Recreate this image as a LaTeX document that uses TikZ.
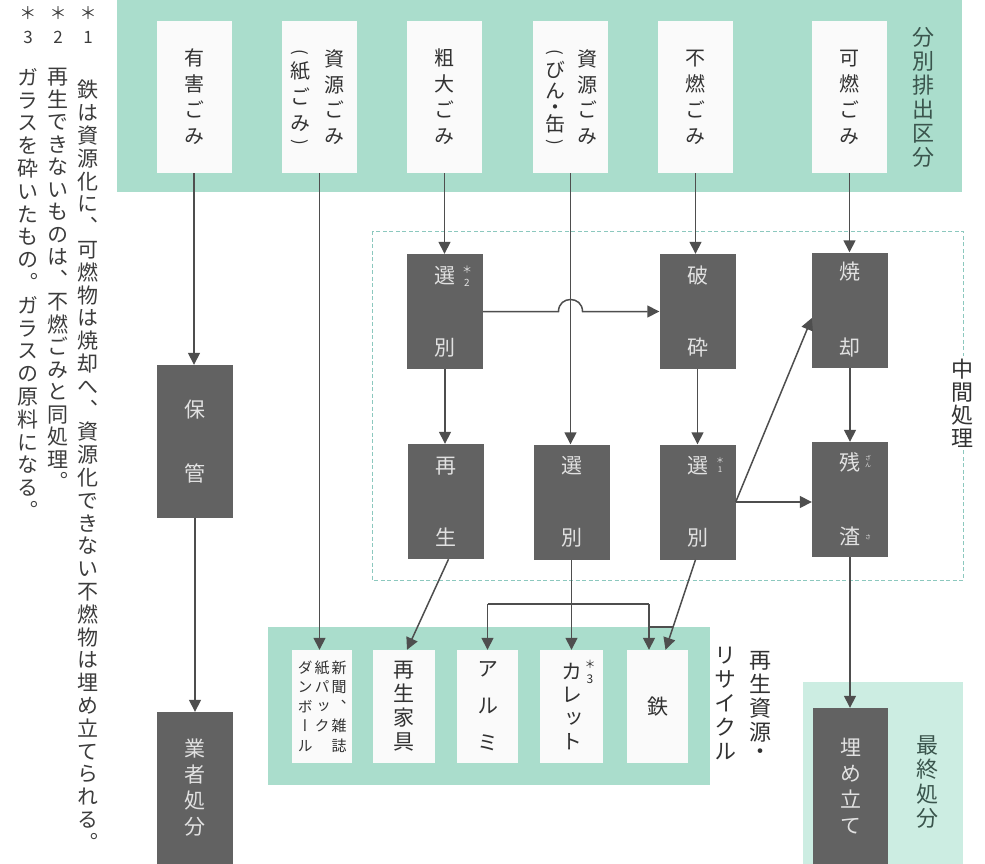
\documentclass[tikz,border=0pt]{standalone}
\usepackage{fontspec}
\setmainfont{Noto Sans CJK JP}[RawFeature=+vert]
\newfontfamily\hj{Noto Sans CJK JP}
\usetikzlibrary{arrows.meta,calc}
\definecolor{bandgreen}{RGB}{170,221,204}
\definecolor{lightgreen}{RGB}{204,237,226}
\definecolor{darkbox}{RGB}{98,98,98}
\definecolor{boxtext}{RGB}{225,225,225}
\definecolor{linegray}{RGB}{78,78,78}
\definecolor{wboxc}{RGB}{250,250,250}
\definecolor{dashc}{RGB}{140,200,190}
\definecolor{labelgreen}{RGB}{58,84,76}
\definecolor{txt}{RGB}{50,50,50}
\definecolor{fntxt}{RGB}{60,60,60}
\makeatletter
\def\vt@end{\vt@end@}
\newdimen\vt@half
\def\vt@loop#1{\ifx#1\vt@end\else
  \ifx#1・\vskip-0.5\vt@half\fi
  \hbox to 1em{\hss#1\hss}%
  \ifx#1・\vskip-0.5\vt@half\fi
  \expandafter\vt@loop\fi}
\newcommand\vtext[2][1.2em]{\vtop{\baselineskip=#1\relax\lineskiplimit=-100pt\relax\lineskip=0pt\relax\vt@half=0.45\baselineskip\vt@loop#2\vt@end}}
\makeatother
\begin{document}
\begin{tikzpicture}[x=1pt,y=-1pt,
 wb/.style={fill=wboxc, inner sep=0pt, minimum width=75pt, minimum height=152pt, text=txt, font=\fontsize{20}{20}\selectfont},
 wt/.style={inner sep=0pt, text=txt, font=\fontsize{20}{20}\selectfont},
 paren/.style={inner sep=0pt, text=txt, rotate=-90, font=\hj\fontsize{17}{17}\selectfont},
 db/.style={fill=darkbox, inner sep=0pt, minimum width=76pt, minimum height=115pt, text=boxtext, font=\fontsize{21}{21}\selectfont},
 rb/.style={fill=wboxc, inner sep=0pt, minimum height=113pt, text=txt, font=\fontsize{21}{21}\selectfont},
 lbl/.style={inner sep=0pt, font=\fontsize{22}{22}\selectfont},
 fn/.style={inner sep=0pt, text=fntxt, font=\fontsize{21}{21}\selectfont, anchor=north},
 fnmark/.style={inner sep=0pt, text=fntxt, font=\fontsize{17}{17}\selectfont},
 fnstar/.style={inner sep=0pt, text=fntxt, font=\hj\fontsize{17}{17}\selectfont},
 sm/.style={inner sep=0pt, font=\fontsize{10}{10}\selectfont},
 ln/.style={draw=linegray, line width=1.5pt},
 arr/.style={ln, -{Triangle[width=12pt,length=12pt]}}]
\useasboundingbox (0,0) rectangle (985,864);
\fill[white] (0,0) rectangle (985,864);
% bands
\fill[bandgreen] (117,0) rectangle (962,192);
\fill[bandgreen] (268,627) rectangle (710,785);
\fill[lightgreen] (803,682) rectangle (963,864);
\draw[dashc, line width=1pt, dash pattern=on 4pt off 2.5pt] (372,231) rectangle (963,580);
% top boxes
\node[wb] (yuugai) at (194,97) {\vtext[26pt]{有害ごみ}};
\node[wb] (kami) at (319.5,97) {};
\node[wt] (kamiR) at (334,97) {\vtext[25.5pt]{資源ごみ}};
\node[wt] (kamiL) at (300,97) {\vtext[26pt]{紙ごみ}};
\node[paren] (kamiPo) at (300,52) {(};
\node[paren] (kamiPc) at (300,142) {)};
\node[wb] (sodai) at (444.5,97) {\vtext[26pt]{粗大ごみ}};
\node[wb] (bin) at (570.5,97) {};
\node[wt] (binR) at (587,97) {\vtext[25.5pt]{資源ごみ}};
\node[wt] (binL) at (555,97) {\vtext[21pt]{びん・缶}};
\node[paren] (binPo) at (555,52) {(};
\node[paren] (binPc) at (555,142) {)};
\node[wb] (funen) at (695.5,97) {\vtext[26pt]{不燃ごみ}};
\node[wb] (kanen) at (849.5,97) {\vtext[26pt]{可燃ごみ}};
\node[lbl, text=labelgreen] (bunbetsu) at (923,97) {\vtext[24pt]{分別排出区分}};
% middle label
\node[lbl, fill=white, inner sep=3pt, text=txt] (chukan) at (962,403) {\vtext[23pt]{中間処理}};
% dark boxes
\node[db] (sen2) at (445,311.5) {\vtext[72pt]{選別}};
\node[db] (hasai) at (697.5,311.5) {\vtext[72pt]{破砕}};
\node[db] (saisei) at (445.5,501.5) {\vtext[72pt]{再生}};
\node[db] (senM) at (571.5,502) {\vtext[72pt]{選別}};
\node[db] (sen1) at (697.5,502) {\vtext[72pt]{選別}};
\node[db] (shoukyaku) at (850,310) {\vtext[76pt]{焼却}};
\node[db] (zansa) at (850,499.5) {\vtext[74pt]{残渣}};
\node[db, minimum height=153pt] (hokan) at (195,441.5) {\vtext[64pt]{保管}};
\node[db, minimum height=152pt] (gyousha) at (195,788) {\vtext[26pt]{業者処分}};
\node[db, minimum width=75pt, minimum height=156pt] (umetate) at (850.5,786) {\vtext[26pt]{埋め立て}};
% small marks
\node[sm, text=boxtext, font=\hj\fontsize{10}{10}\selectfont] (m2a) at (467,270) {＊};
\node[sm, text=boxtext] (m2b) at (467,283) {2};
\node[sm, text=boxtext, font=\hj\fontsize{8}{8}\selectfont] (m1a) at (720,460) {＊};
\node[sm, text=boxtext, font=\fontsize{8}{8}\selectfont] (m1b) at (720,470) {1};
\node[sm, text=boxtext, font=\fontsize{6}{6}\selectfont] (rz) at (868,462) {\vtext[7pt]{ざん}};
\node[sm, text=boxtext, font=\fontsize{6}{6}\selectfont] (rs) at (868,537) {さ};
% recycle boxes
\node[rb, minimum width=60pt, font=\fontsize{15}{15}\selectfont] (shinbun) at (322,706.5) {\vtext[19.5pt]{ダンボール}\hspace{2pt}\vtext[19.5pt]{紙パック}\hspace{2pt}\vtext[19.5pt]{新聞、雑誌}};
\node[rb, minimum width=62pt] (kagu) at (404,706.5) {\vtext[24pt]{再生家具}};
\node[rb, minimum width=61pt] (arumi) at (487.5,706.5) {\vtext[37pt]{アルミ}};
\node[rb, minimum width=63pt] (kalet) at (571.5,706.5) {\vtext[23.5pt]{カレット}};
\node[rb, minimum width=61pt] (tetsu) at (657.5,706.5) {鉄};
\node[sm, text=txt, font=\hj\fontsize{11}{11}\selectfont] (m3a) at (590,664) {＊};
\node[sm, text=txt, font=\fontsize{12}{12}\selectfont] (m3b) at (590,679) {3};
\node[lbl, text=txt] (saigen) at (760,703) {\vtext[24pt]{再生資源・}};
\node[lbl, text=txt] (recycle) at (725,703) {\vtext[24pt]{リサイクル}};
\node[lbl, text=labelgreen] (saishu) at (927,782) {\vtext[24.5pt]{最終処分}};
% footnotes
\node[fnstar] (f1a) at (88,13) {＊};
\node[fnmark] (f1b) at (88,37) {1};
\node[fnstar] (f2a) at (58,13) {＊};
\node[fnmark] (f2b) at (58,37) {2};
\node[fnstar] (f3a) at (28,13) {＊};
\node[fnmark] (f3b) at (28,37) {3};
\node[fn] (fn1) at (88,80) {\vtext[22.8pt]{鉄は資源化に、可燃物は焼却へ、資源化できない不燃物は埋め立てられる。}};
\node[fn] (fn2) at (58,68) {\vtext[22.5pt]{再生できないものは、不燃ごみと同処理。}};
\node[fn] (fn3) at (28,68) {\vtext[22.8pt]{ガラスを砕いたもの。ガラスの原料になる。}};
% connectors
\draw[arr] (yuugai.south) -- (yuugai.south |- hokan.north);
\draw[arr] (hokan.south) -- (gyousha.north);
\draw[arr] (kami.south) -- (kami.south |- shinbun.north);
\draw[arr] (sodai.south) -- (sodai.south |- sen2.north);
\draw[arr] (bin.south) -- (bin.south |- senM.north);
\draw[arr] (funen.south) -- (funen.south |- hasai.north);
\draw[arr] (kanen.south) -- (kanen.south |- shoukyaku.north);
\draw[arr] (sen2.south) -- (sen2.south |- saisei.north);
\draw[arr] (hasai.south) -- (sen1.north);
\draw[arr] (shoukyaku.south) -- (zansa.north);
\coordinate (hopc) at (bin.south |- sen2.east);
\draw[arr] (sen2.east) -- ($(hopc)+(-12,0)$) .. controls ($(hopc)+(-12,-16)$) and ($(hopc)+(12,-16)$) .. ($(hopc)+(12,0)$) -- (hasai.west);
\draw[arr] (sen1.east) -- ($(shoukyaku.west)+(0,8)$);
\draw[arr] (sen1.east) -- (sen1.east -| zansa.west);
\draw[arr] (zansa.south) -- (zansa.south |- umetate.north);
\draw[arr] ($(saisei.south)+(3,0)$) -- ($(kagu.north)+(3,0)$);
\draw[arr] (senM.south) -- (senM.south |- kalet.north);
\coordinate (brY) at (0,604);
\coordinate (ta) at ($(tetsu.north)+(-8.5,0)$);
\coordinate (tb) at ($(tetsu.north)+(8,0)$);
\draw[ln] (arumi.north |- brY) -- (ta |- brY);
\draw[arr] (arumi.north |- brY) -- (arumi.north);
\draw[arr] (ta |- brY) -- (ta);
\draw[arr] ($(sen1.south)+(-2,0)$) -- (tb);
\draw[ln] ($(ta)+(0,-23)$) -- ($(ta)+(24,-23)$);
\end{tikzpicture}
\end{document}
